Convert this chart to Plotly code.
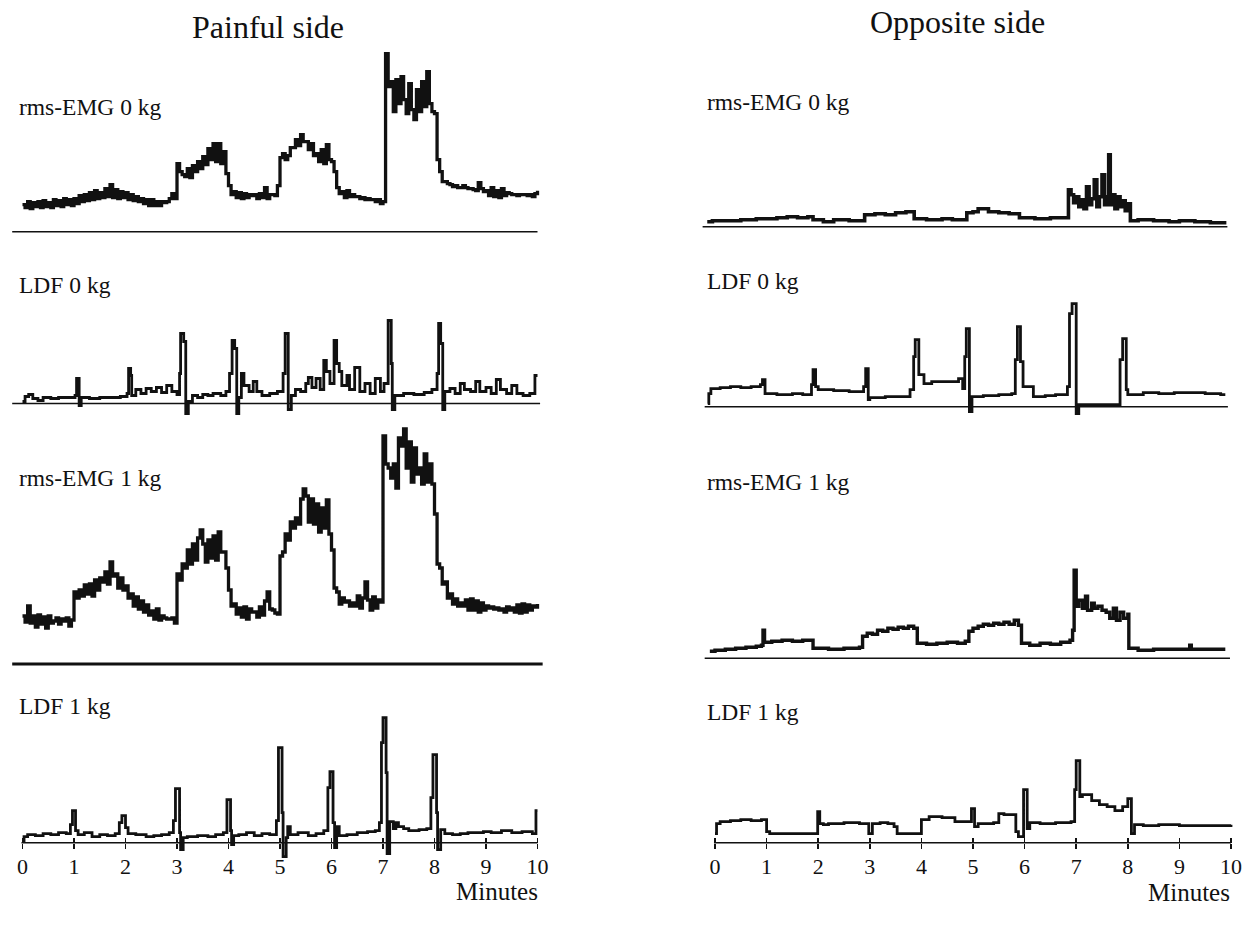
import plotly.graph_objects as go

W, H = 1248, 925
INK = "#111111"
FONT = "Liberation Serif"

# ---------------- data (arbitrary units) ----------------
T05 = [round(i * 0.05, 2) for i in range(201)]  # minutes, 0.05-min sampling

painful_emg0 = (
    [27, 24, 30, 23, 29, 25, 30, 24, 31, 25, 29, 24, 32, 26, 31, 25, 33, 27, 32, 26] +
    [33, 28, 36, 30, 37, 31, 39, 32, 41, 33, 39, 34, 43, 35, 47, 34, 42, 33, 40, 34] +
    [39, 32, 37, 31, 35, 30, 33, 28, 32, 26, 32, 26, 30, 26, 30, 29, 30, 33, 38, 33] +
    [68, 60, 57, 55, 63, 54, 66, 60, 70, 63, 75, 67, 83, 72, 88, 70, 88, 68, 80, 58] +
    [46, 37, 40, 34, 39, 33, 38, 34, 37, 36, 37, 33, 38, 34, 44, 33, 37, 37, 36, 46] +
    [74, 78, 72, 76, 84, 84, 92, 86, 97, 90, 90, 82, 88, 76, 78, 70, 82, 68, 87, 72] +
    [70, 60, 44, 38, 40, 34, 41, 35, 37, 35, 35, 33, 34, 32, 33, 32, 32, 30, 32, 28] +
    [30, 178, 145, 150, 120, 152, 128, 155, 132, 118, 148, 122, 112, 142, 120, 150, 125, 160, 128, 120] +
    [118, 72, 60, 50, 50, 48, 47, 45, 46, 44, 44, 46, 44, 43, 43, 42, 41, 49, 43, 40] +
    [41, 36, 44, 35, 41, 34, 43, 36, 39, 38, 37, 37, 36, 37, 37, 37, 36, 37, 35, 38] +
    [41]
)

painful_emg1 = (
    [48, 42, 58, 41, 48, 37, 49, 40, 47, 36, 48, 41, 43, 46, 40, 45, 43, 46, 38, 44] +
    [72, 66, 74, 68, 79, 70, 80, 68, 84, 74, 86, 82, 92, 80, 102, 88, 90, 76, 86, 74] +
    [78, 66, 70, 58, 67, 55, 63, 52, 59, 49, 53, 45, 55, 44, 48, 46, 45, 45, 46, 41] +
    [90, 84, 100, 96, 114, 100, 120, 104, 126, 134, 120, 102, 124, 106, 128, 104, 132, 112, 112, 96] +
    [74, 58, 60, 50, 56, 47, 57, 45, 55, 52, 52, 47, 57, 49, 63, 72, 55, 54, 51, 50] +
    [108, 112, 130, 124, 142, 136, 146, 140, 165, 175, 168, 142, 165, 140, 160, 132, 156, 136, 164, 130] +
    [114, 76, 72, 60, 66, 62, 63, 58, 61, 58, 68, 56, 66, 82, 64, 54, 67, 56, 64, 62] +
    [228, 200, 196, 186, 200, 176, 226, 218, 235, 196, 222, 182, 216, 190, 196, 180, 210, 182, 200, 180] +
    [150, 100, 96, 80, 82, 66, 70, 60, 65, 58, 61, 58, 64, 54, 65, 54, 63, 52, 61, 54] +
    [58, 56, 57, 55, 56, 54, 55, 52, 57, 54, 56, 52, 59, 51, 60, 52, 59, 54, 58, 57] +
    [60]
)

painful_ldf0_t = [0.00, 0.05, 0.12, 0.20, 0.30, 0.40, 0.55, 0.70, 0.85, 1.02, 1.05, 1.10, 1.14, 1.30, 1.50,
                  1.70, 1.90, 2.03, 2.06, 2.10, 2.12, 2.20, 2.30, 2.40, 2.50, 2.60, 2.70, 2.80, 2.90, 3.00,
                  3.05, 3.07, 3.13, 3.17, 3.22, 3.30, 3.40, 3.50, 3.60, 3.70, 3.85, 3.95, 4.02, 4.07, 4.12,
                  4.16, 4.20, 4.25, 4.30, 4.40, 4.48, 4.55, 4.65, 4.80, 4.95, 5.06, 5.10, 5.16, 5.22, 5.30,
                  5.40, 5.50, 5.55, 5.62, 5.70, 5.78, 5.85, 5.90, 5.97, 6.05, 6.10, 6.15, 6.20, 6.30, 6.35,
                  6.45, 6.55, 6.65, 6.75, 6.85, 6.95, 7.02, 7.10, 7.16, 7.18, 7.23, 7.40, 7.60, 7.80, 7.95,
                  8.05, 8.08, 8.12, 8.16, 8.20, 8.30, 8.40, 8.50, 8.58, 8.70, 8.80, 8.88, 9.00, 9.10, 9.20,
                  9.28, 9.40, 9.50, 9.60, 9.72, 9.85, 9.95, 10.00]
painful_ldf0_v = [2, 7, 9, 5, 3, 6, 5, 6, 6, 8, 25, -2, 6, 5, 6,
                  6, 7, 10, 35, 28, 8, 14, 10, 15, 12, 16, 11, 18, 12, 9,
                  30, 70, 62, -10, 2, 8, 6, 9, 8, 10, 8, 12, 30, 63, 55,
                  -10, 6, 30, 18, 12, 22, 12, 8, 10, 12, 30, 70, -6, 8, 14,
                  12, 20, 26, 16, 25, 14, 43, 32, 20, 63, 40, 32, 18, 28, 14,
                  36, 12, 20, 10, 25, 12, 20, 83, 40, -6, 8, 10, 9, 11, 14,
                  30, 80, 60, -6, 12, 15, 10, 20, 14, 12, 22, 12, 16, 10, 24,
                  14, 10, 18, 10, 8, 10, 28, 28]

painful_ldf1_t = [0.00, 0.03, 0.10, 0.25, 0.40, 0.55, 0.70, 0.85, 0.93, 0.97, 1.03, 1.08, 1.20, 1.35, 1.50,
                  1.65, 1.80, 1.88, 1.93, 2.00, 2.05, 2.20, 2.40, 2.55, 2.70, 2.85, 2.93, 2.97, 3.05, 3.07,
                  3.12, 3.20, 3.40, 3.60, 3.75, 3.90, 3.97, 4.04, 4.06, 4.10, 4.20, 4.35, 4.50, 4.65, 4.80,
                  4.93, 4.97, 5.04, 5.06, 5.12, 5.15, 5.20, 5.35, 5.55, 5.70, 5.85, 5.93, 5.97, 6.03, 6.06,
                  6.10, 6.15, 6.30, 6.50, 6.70, 6.85, 6.93, 6.97, 7.00, 7.06, 7.08, 7.13, 7.20, 7.25, 7.30,
                  7.40, 7.50, 7.70, 7.85, 7.93, 7.97, 8.04, 8.06, 8.12, 8.20, 8.35, 8.50, 8.65, 8.80, 8.95,
                  9.10, 9.30, 9.50, 9.70, 9.90, 9.97, 10.00]
painful_ldf1_v = [2, 6, 8, 7, 9, 8, 10, 9, 18, 32, 12, 8, 10, 6, 8,
                  7, 9, 20, 27, 15, 9, 8, 6, 7, 8, 10, 22, 54, 10, -7,
                  5, 6, 7, 6, 8, 10, 43, 12, -2, 7, 8, 10, 7, 9, 8,
                  22, 95, 30, -14, 5, 16, 8, 10, 7, 9, 12, 55, 71, 20, -5,
                  16, 7, 8, 10, 11, 12, 20, 100, 125, 70, -11, 21, 14, 20, 16,
                  14, 12, 13, 14, 45, 88, 30, -7, 13, 9, 8, 9, 10, 10, 11,
                  10, 12, 10, 11, 9, 32, 32]

opposite_emg0_t = [-0.15, -0.05, 0.20, 0.50, 0.80, 1.00, 1.20, 1.40, 1.60, 1.80, 1.90, 2.10, 2.30, 2.60,
                   2.90, 3.10, 3.30, 3.50, 3.70, 3.86, 4.10, 4.40, 4.60, 4.88, 5.00, 5.10, 5.30, 5.50, 5.70,
                   5.90, 6.20, 6.50, 6.85, 6.90, 6.95, 7.00, 7.05, 7.10, 7.15, 7.20, 7.25, 7.30, 7.35, 7.40,
                   7.45, 7.50, 7.55, 7.60, 7.63, 7.66, 7.70, 7.75, 7.80, 7.85, 7.90, 7.95, 7.98, 8.05, 8.20,
                   8.50, 8.80, 9.00, 9.30, 9.60, 9.91]
opposite_emg0_v = [5, 6, 6, 7, 8, 8, 9, 10, 9, 10, 7, 5, 7, 6,
                   12, 13, 12, 14, 15, 8, 7, 8, 7, 14, 15, 18, 15, 14, 13,
                   9, 8, 9, 37, 32, 24, 30, 20, 27, 18, 40, 22, 28, 47, 20,
                   30, 52, 22, 30, 72, 22, 32, 18, 30, 20, 26, 16, 23, 6, 7,
                   6, 5, 6, 5, 4, 4]

opposite_ldf0_t = [-0.14, -0.12, -0.08, 0.10, 0.30, 0.50, 0.70, 0.88, 0.92, 0.97, 1.20, 1.50, 1.70, 1.87,
                   1.90, 1.95, 2.00, 2.30, 2.60, 2.88, 2.92, 2.97, 3.00, 3.30, 3.60, 3.78, 3.85, 3.88, 3.95,
                   4.05, 4.20, 4.50, 4.72, 4.80, 4.84, 4.87, 4.93, 4.98, 5.20, 5.50, 5.75, 5.82, 5.86, 5.92,
                   5.97, 6.17, 6.40, 6.60, 6.83, 6.87, 6.92, 7.00, 7.05, 7.30, 7.60, 7.85, 7.90, 7.97, 8.00,
                   8.30, 8.60, 8.90, 9.20, 9.50, 9.80, 9.89]
opposite_ldf0_v = [3, 13, 18, 19, 20, 19, 20, 22, 27, 13, 12, 13, 12, 22,
                   37, 20, 17, 16, 15, 20, 38, 7, 9, 10, 10, 17, 50, 67, 32,
                   23, 25, 25, 28, 18, 50, 78, -5, 10, 11, 12, 13, 47, 80, 45,
                   20, 10, 11, 12, 20, 93, 103, -7, 2, 2, 2, 47, 68, 17, 12,
                   14, 13, 14, 14, 13, 12, 12]

opposite_emg1_t = [-0.10, 0.00, 0.20, 0.40, 0.60, 0.80, 0.90, 0.93, 0.96, 1.10, 1.30, 1.50, 1.70, 1.90,
                   2.20, 2.50, 2.80, 2.86, 2.95, 3.05, 3.15, 3.25, 3.35, 3.45, 3.55, 3.65, 3.75, 3.85, 3.92,
                   4.10, 4.30, 4.50, 4.70, 4.85, 4.92, 5.00, 5.10, 5.20, 5.30, 5.40, 5.50, 5.60, 5.70, 5.80,
                   5.88, 5.94, 6.10, 6.30, 6.50, 6.70, 6.88, 6.93, 6.96, 7.00, 7.05, 7.12, 7.18, 7.22, 7.30,
                   7.35, 7.42, 7.50, 7.58, 7.65, 7.72, 7.78, 7.85, 7.92, 8.00, 8.02, 8.20, 8.50, 8.80, 9.10,
                   9.20, 9.23, 9.50, 9.89]
opposite_emg1_v = [7, 8, 9, 10, 11, 12, 13, 28, 16, 17, 18, 17, 18, 10,
                   9, 10, 11, 22, 25, 24, 28, 27, 30, 29, 31, 30, 32, 30, 15,
                   14, 15, 16, 15, 17, 27, 30, 32, 34, 33, 35, 34, 36, 34, 38,
                   33, 15, 13, 15, 14, 16, 18, 28, 88, 52, 58, 50, 62, 48, 55,
                   50, 52, 48, 46, 40, 50, 38, 46, 40, 44, 10, 8, 9, 9, 9,
                   13, 9, 9, 9]

opposite_ldf1_t = [0.00, 0.03, 0.10, 0.30, 0.50, 0.70, 0.90, 1.00, 1.06, 1.30, 1.60, 1.96, 1.99, 2.03,
                   2.10, 2.20, 2.50, 2.80, 2.98, 3.05, 3.20, 3.35, 3.47, 3.53, 3.80, 4.00, 4.15, 4.40, 4.65,
                   4.97, 5.03, 5.10, 5.40, 5.50, 5.60, 5.83, 5.88, 5.98, 6.05, 6.10, 6.30, 6.60, 6.90, 6.97,
                   7.00, 7.07, 7.12, 7.30, 7.45, 7.60, 7.75, 7.90, 8.00, 8.07, 8.13, 8.30, 8.60, 9.00, 9.50,
                   10.00]
opposite_ldf1_v = [9, 19, 21, 22, 23, 22, 23, 11, 9, 9, 9, 9, 31, 19,
                   18, 19, 20, 19, 9, 19, 20, 19, 16, 9, 9, 23, 26, 25, 21,
                   34, 16, 19, 20, 29, 28, 11, 6, 53, 14, 20, 19, 20, 21, 53,
                   82, 46, 48, 42, 38, 36, 32, 36, 44, 9, 18, 17, 18, 17, 17,
                   18]

minute_ticks = list(range(11))
minute_labels = [str(m) for m in minute_ticks]

# ---------------- layout helpers ----------------
XR = [-0.3, 10.2]
COLS = {"L": (22.5, 51.5), "R": (715.0, 51.6)}


def xdom(col):
    x0, s = COLS[col]
    return [(x0 + XR[0] * s) / W, (x0 + XR[1] * s) / W]


def ydom(base, lo, hi):
    return [1 - (base - lo) / H, 1 - (base - hi) / H]


panels = [
    dict(col="L", base=231.7, lo=-12, hi=185, t=T05, v=painful_emg0, lw=3.3,
         label="rms-EMG 0 kg", ly=107, bx=(-0.2, 10.0), bw=1.6),
    dict(col="L", base=403.5, lo=-16, hi=95, t=painful_ldf0_t, v=painful_ldf0_v, lw=2.8,
         label="LDF 0 kg", ly=285, bx=(-0.2, 10.05), bw=1.6),
    dict(col="L", base=664.0, lo=-12, hi=245, t=T05, v=painful_emg1, lw=3.3,
         label="rms-EMG 1 kg", ly=478, bx=(-0.2, 10.1), bw=3.0),
    dict(col="L", base=842.7, lo=-20, hi=135, t=painful_ldf1_t, v=painful_ldf1_v, lw=2.8,
         label="LDF 1 kg", ly=706, bx=(-0.02, 10.0), bw=1.6),
    dict(col="R", base=226.7, lo=-12, hi=85, t=opposite_emg0_t, v=opposite_emg0_v, lw=3.6,
         label="rms-EMG 0 kg", ly=102, bx=(-0.24, 9.93), bw=1.5),
    dict(col="R", base=406.7, lo=-16, hi=110, t=opposite_ldf0_t, v=opposite_ldf0_v, lw=2.8,
         label="LDF 0 kg", ly=281, bx=(-0.2, 9.94), bw=1.5),
    dict(col="R", base=658.3, lo=-12, hi=100, t=opposite_emg1_t, v=opposite_emg1_v, lw=3.4,
         label="rms-EMG 1 kg", ly=482, bx=(-0.2, 9.98), bw=1.5),
    dict(col="R", base=842.7, lo=-16, hi=95, t=opposite_ldf1_t, v=opposite_ldf1_v, lw=2.8,
         label="LDF 1 kg", ly=712, bx=(-0.02, 10.0), bw=1.6),
]

fig = go.Figure()
layout = dict(
    width=W, height=H, margin=dict(l=0, r=0, t=0, b=0),
    paper_bgcolor="white", plot_bgcolor="rgba(0,0,0,0)",
    showlegend=False, shapes=[], annotations=[],
    font=dict(family=FONT, color=INK),
)

for i, p in enumerate(panels, start=1):
    xa, ya = f"x{i}", f"y{i}"
    fig.add_trace(go.Scatter(
        x=p["t"], y=p["v"], mode="lines", line=dict(color=INK, width=p["lw"], shape="hv"),
        xaxis=xa, yaxis=ya, hoverinfo="skip"))
    xaxis = dict(domain=xdom(p["col"]), range=XR, showgrid=False, zeroline=False,
                 showline=False, showticklabels=False, ticks="", fixedrange=True)
    if i in (4, 8):
        xaxis.update(anchor="free", position=1 - p["base"] / H, ticks="outside", ticklen=5,
                     tickwidth=1.6, tickcolor=INK, tickvals=minute_ticks, ticktext=minute_labels,
                     showticklabels=True, tickfont=dict(family=FONT, size=22, color=INK),
                     ticklabelstandoff=-1)
    else:
        xaxis.update(anchor=ya)
    layout[f"xaxis{i}"] = xaxis
    layout[f"yaxis{i}"] = dict(domain=ydom(p["base"], p["lo"], p["hi"]), range=[p["lo"], p["hi"]],
                               anchor=xa, visible=False, fixedrange=True)
    layout["shapes"].append(dict(type="line", xref=xa, yref=ya, x0=p["bx"][0], x1=p["bx"][1],
                                 y0=0, y1=0, line=dict(color=INK, width=p["bw"]), layer="below"))
    x0px = 17 if p["col"] == "L" else 705
    layout["annotations"].append(dict(text=p["label"], xref="paper", yref="paper", x=x0px / W,
                                      y=1 - p["ly"] / H, xanchor="left", yanchor="middle",
                                      showarrow=False, font=dict(family=FONT, size=23.5, color=INK)))

# inward tick marks (ticks cross the time axis)
for j, base_i in ((9, 4), (10, 8)):
    p = panels[base_i - 1]
    fig.add_trace(go.Scatter(x=[], y=[], xaxis=f"x{j}", yaxis=f"y{base_i}", hoverinfo="skip"))
    layout[f"xaxis{j}"] = dict(domain=xdom(p["col"]), range=XR, overlaying=f"x{base_i}", anchor="free",
                               position=1 - p["base"] / H, ticks="inside", ticklen=5, tickwidth=1.6,
                               tickcolor=INK, tickvals=minute_ticks, showticklabels=False,
                               showgrid=False, zeroline=False, showline=False, fixedrange=True)

for text, xpx, ypx, size in (("Painful side", 268, 27, 32), ("Opposite side", 957, 22, 32),
                             ("Minutes", 497, 891, 25), ("Minutes", 1189, 892, 25)):
    layout["annotations"].append(dict(text=text, xref="paper", yref="paper", x=xpx / W, y=1 - ypx / H,
                                      xanchor="center", yanchor="middle", showarrow=False,
                                      font=dict(family=FONT, size=size, color=INK)))

fig.update_layout(**layout)
fig.write_html("out.html", config={"displayModeBar": False, "staticPlot": True},
               post_script="document.body.style.margin='0';document.body.style.overflow='hidden';")
